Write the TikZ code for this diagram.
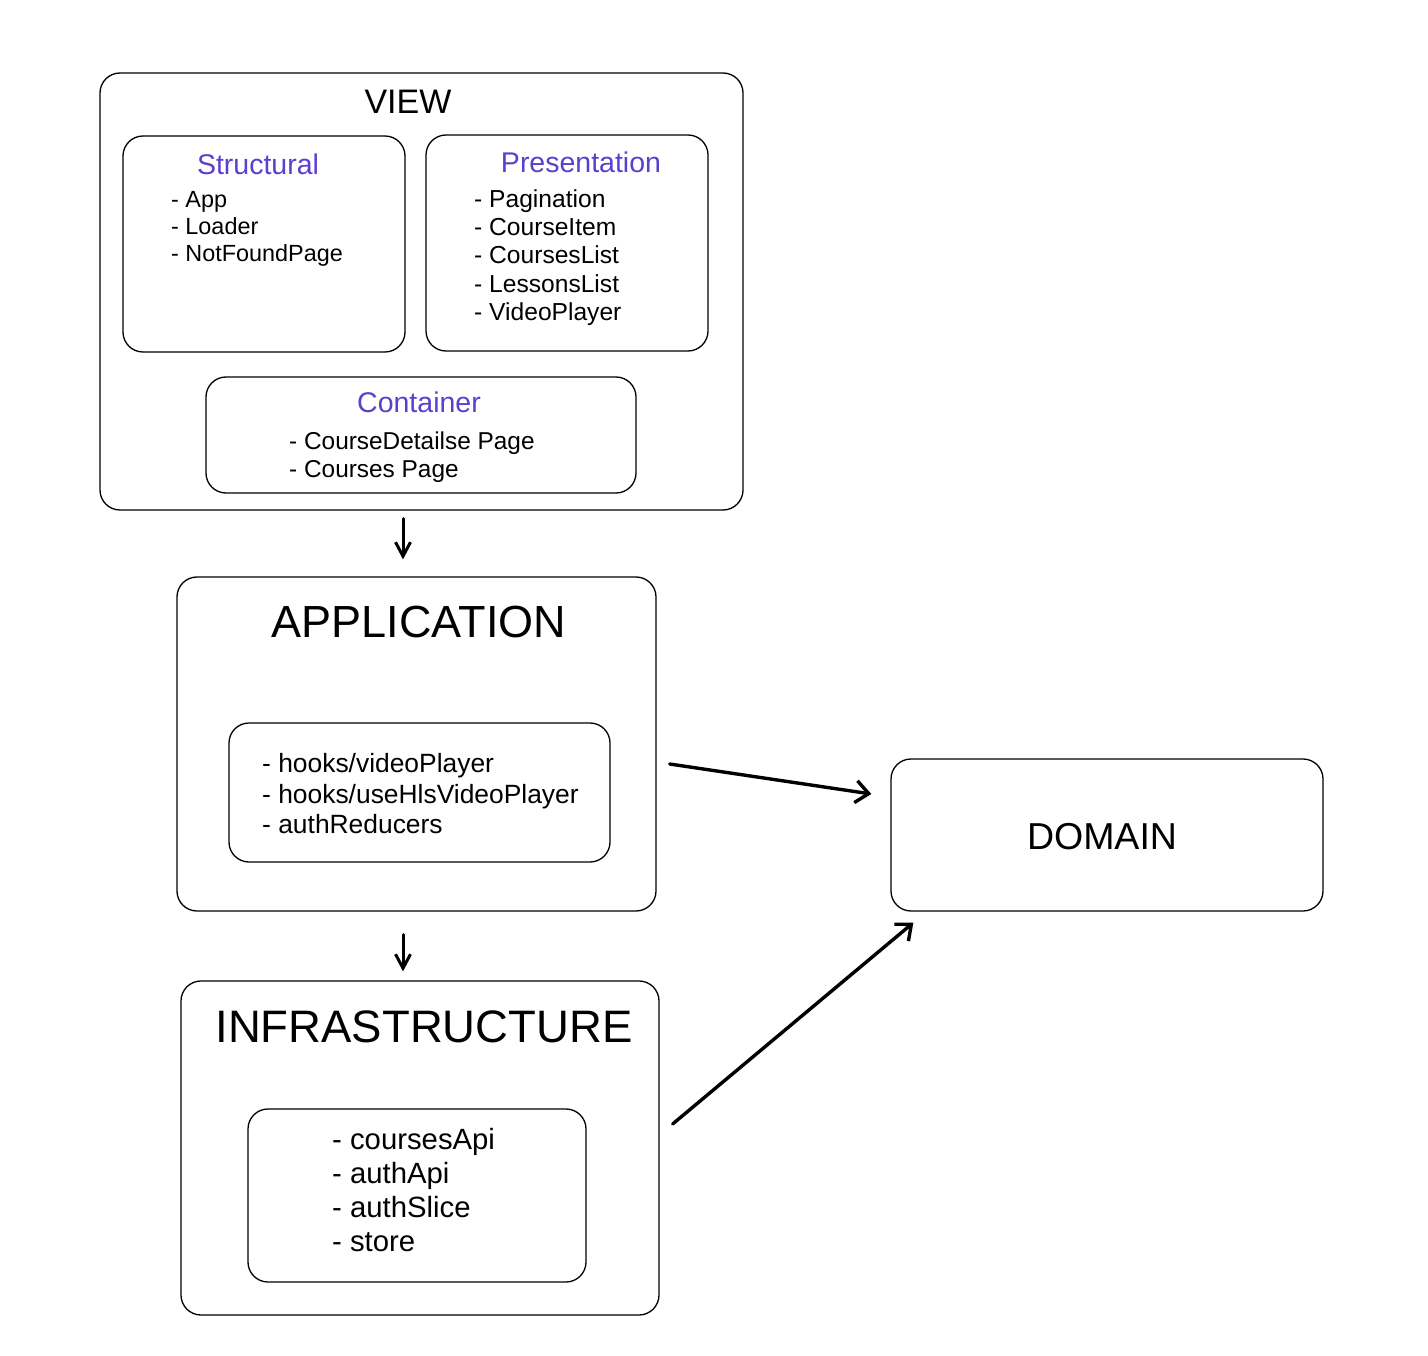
\documentclass[tikz,border=0pt]{standalone}
\usepackage{fontspec}
\setmainfont{Liberation Sans}
\usetikzlibrary{arrows.meta,calc}
\definecolor{titlepurple}{HTML}{5B3FD0}
\begin{document}
\begin{tikzpicture}[x=1pt,y=-1pt,
  box/.style={draw, line width=1.3pt, rounded corners=20pt, inner sep=0pt},
  ttl/.style={inner sep=0pt, text=titlepurple, font=\fontsize{28.5}{34}\selectfont},
  bigttl/.style={inner sep=0pt, font=\fontsize{#1}{#1}\selectfont},
  items/.style 2 args={inner sep=0pt, anchor=west, align=left, font=\fontsize{#1}{#2}\selectfont},
  arr/.style={line width=3.4pt, line cap=round, -{Straight Barb[length=13pt,width=22pt,line width=3.4pt]}},
  varr/.style={line width=3pt, line cap=round, -{Straight Barb[length=14pt,width=15pt,line width=3pt]}}
]
\useasboundingbox (0,0) rectangle (1428,1356);
\fill[white] (0,0) rectangle (1428,1356);

% VIEW
\node[box, minimum width=643pt, minimum height=437pt] (view) at (421.5,291.5) {};
\node[bigttl=34] (viewt) at (408,102) {VIEW};

\node[box, minimum width=282pt, minimum height=216pt] (struct) at (264,244) {};
\node[ttl] (structt) at (258,164) {Structural};
\node[items={23.4}{26.8}] (structi) at (171,229) {- App\\- Loader\\- NotFoundPage};

\node[box, minimum width=282pt, minimum height=216pt] (pres) at (567,243) {};
\node[ttl] (prest) at (581,162) {Presentation};
\node[items={24.6}{28.3}] (presi) at (474,257.5) {- Pagination\\- CourseItem\\- CoursesList\\- LessonsList\\- VideoPlayer};

\node[box, minimum width=430pt, minimum height=116pt] (cont) at (421,435) {};
\node[ttl] (contt) at (419,402) {Container};
\node[items={24.4}{28}] (conti) at (289,457) {- CourseDetailse Page\\- Courses Page};

% APPLICATION
\node[box, minimum width=479pt, minimum height=334pt] (app) at (416.5,744) {};
\node[bigttl=45] (appt) at (419,622) {APPLICATION};
\node[box, minimum width=381pt, minimum height=139pt] (appin) at (419.5,792.5) {};
\node[items={26.4}{30.5}] (appi) at (262,794) {- hooks/videoPlayer\\- hooks/useHlsVideoPlayer\\- authReducers};

% DOMAIN
\node[box, minimum width=432pt, minimum height=152pt] (domain) at (1107,835) {};
\node[bigttl=37.5] (domaint) at (1102,837) {DOMAIN};

% INFRASTRUCTURE
\node[box, minimum width=478pt, minimum height=334pt] (infra) at (420,1148) {};
\node[bigttl=45.5] (infrat) at (424,1027) {INFRASTRUCTURE};
\node[box, minimum width=338pt, minimum height=173pt] (infrain) at (417,1195.5) {};
\node[items={29.3}{33.7}] (infrai) at (332,1190) {- coursesApi\\- authApi\\- authSlice\\- store};

% connectors
\draw[varr] ([shift={(-18.5,8)}]view.south) -- ([shift={(-13.5,-17)}]app.north);
\draw[varr] ([shift={(-13.5,23)}]app.south) -- ([shift={(-17,-9)}]infra.north);
\draw[arr] ([shift={(13,20)}]app.east) -- ([shift={(-19,-41)}]domain.west);
\draw[arr] ([shift={(13,-24)}]infra.east) -- ([shift={(23,11)}]domain.south west);
\end{tikzpicture}
\end{document}
